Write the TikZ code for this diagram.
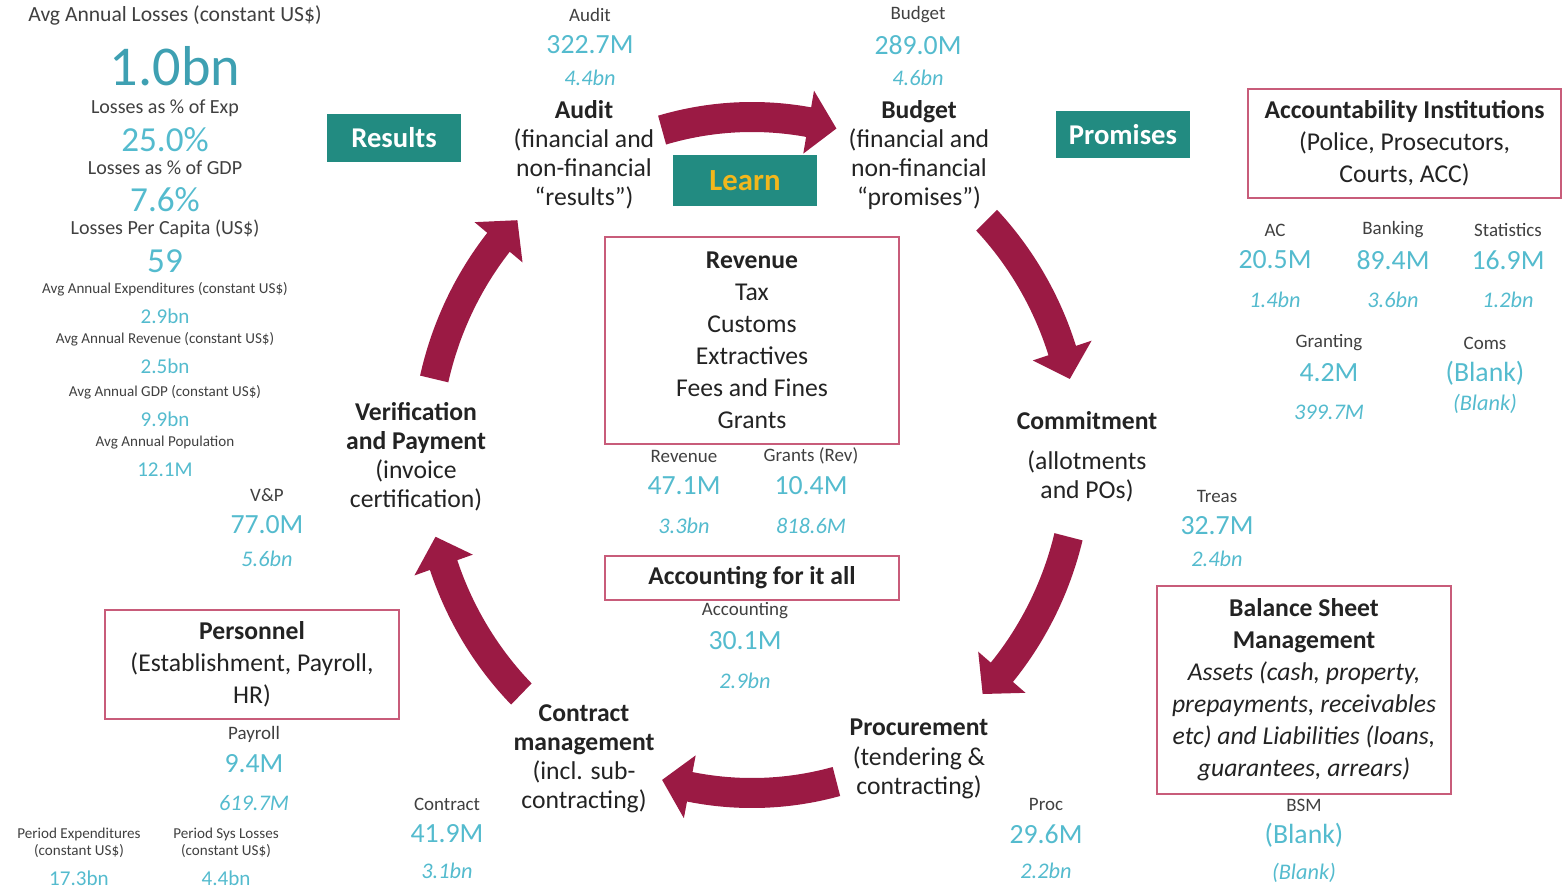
\documentclass[tikz,border=0pt]{standalone}
\usepackage{fontspec}
\setmainfont{Carlito}
\usepackage{tikz}
\definecolor{cycleteal}{RGB}{34,139,129}
\definecolor{learnyellow}{RGB}{242,183,28}
\definecolor{cyclered}{RGB}{155,26,68}
\definecolor{framepink}{RGB}{200,92,122}
\definecolor{valcyan}{RGB}{84,187,206}
\definecolor{bigcyan}{RGB}{62,160,178}
\definecolor{labelgray}{RGB}{64,64,64}
\definecolor{stagetext}{RGB}{35,35,35}
\tikzset{
  stage/.style    ={align=center, inner sep=0pt, text=stagetext,
                    font=\fontsize{14.6}{16.6}\selectfont},
  tagbox/.style   ={rectangle, fill=cycleteal, text=white, inner sep=0pt,
                    minimum width=2.68cm, minimum height=0.96cm,
                    font=\bfseries\fontsize{16.3}{19}\selectfont},
  areabox/.style  ={rectangle, draw=framepink, line width=0.9pt, align=flush center,
                    text width=5.88cm, inner sep=0pt, text=stagetext,
                    font=\fontsize{14.6}{18.2}\selectfont},
  cardlbl/.style  ={inner sep=0pt, text=labelgray, font=\fontsize{10.8}{13}\selectfont},
  cardval/.style  ={inner sep=0pt, text=valcyan, font=\fontsize{15.8}{18}\selectfont},
  cardsub/.style  ={inner sep=0pt, text=valcyan, font=\itshape\fontsize{12.7}{15}\selectfont},
  stattitle/.style={inner sep=0pt, text=labelgray, font=\fontsize{12.3}{15}\selectfont},
  bigval/.style   ={inner sep=0pt, text=bigcyan, font=\fontsize{32}{35}\selectfont},
  statlbl/.style  ={inner sep=0pt, text=labelgray, font=\fontsize{11.4}{13}\selectfont},
  statval/.style  ={inner sep=0pt, text=valcyan, font=\fontsize{20}{23}\selectfont},
  smalllbl/.style ={inner sep=0pt, align=center, text=labelgray,
                    font=\fontsize{8.6}{10}\selectfont},
  smallval/.style ={inner sep=0pt, text=valcyan, font=\fontsize{12}{14}\selectfont},
  cyclearrow/.style={fill=cyclered}
}

\begin{document}
\begin{tikzpicture}[x=0.02cm, y=0.02cm]
\useasboundingbox (0,0) rectangle (1562,-889);
% Cycle arrows
\begin{scope}[shift={(752,-455)}, xscale=0.965]
\foreach \a [evaluate=\a as \h using \a-26, evaluate=\a as \e using \a-31] in {106,44,-14,-75,-135,167}{
  \fill[cyclearrow] (\a:353) arc[start angle=\a, end angle=\h, radius=353]
    -- (\h:370) -- (\e:338) -- (\h:306) -- (\h:323)
    arc[start angle=\h, end angle=\a, radius=323] -- cycle;
}
\end{scope}
% Stages of the cycle
\node[stage] (audit) at (584,-155) {\textbf{Audit}\\(financial and\\non-financial\\“results”)};
\node[stage] (budget) at (919,-155) {\textbf{Budget}\\(financial and\\non-financial\\“promises”)};
\node[stage] (commit) at (1087,-457) {\textbf{Commitment}\\[6pt](allotments\\and POs)};
\node[stage] (procure) at (919,-759) {\textbf{Procurement}\\(tendering \&\\contracting)};
\node[stage] (contract) at (584,-759) {\textbf{Contract}\\\textbf{management}\\(incl. sub-\\contracting)};
\node[stage] (verify) at (416,-457) {\textbf{Verification}\\\textbf{and Payment}\\(invoice\\certification)};
% Tags
\node[tagbox] (results) at (394,-138) {Results};
\node[tagbox, text=learnyellow, minimum width=2.88cm, minimum height=1.02cm,
      font=\bfseries\fontsize{17.5}{20}\selectfont] (learn) at (745,-180.5) {Learn};
\node[tagbox, minimum height=0.94cm] (promises) at (1123,-134.5) {Promises};
% Framed areas
\node[areabox, minimum height=4.14cm] (revenue) at (752,-340.5)
  {\textbf{Revenue}\\Tax\\Customs\\Extractives\\Fees and Fines\\Grants};
\node[areabox, minimum height=0.88cm] (accounting) at (752,-578) {\textbf{Accounting for it all}};
\node[areabox, minimum height=2.18cm] (personnel) at (252,-664.5)
  {\textbf{Personnel}\\(Establishment, Payroll,\\HR)};
\node[areabox, minimum height=4.16cm] (bsm) at (1304,-690)
  {\textbf{Balance Sheet}\\\textbf{Management}\\\textit{Assets (cash, property,}\\
   \textit{prepayments, receivables}\\\textit{etc) and Liabilities (loans,}\\\textit{guarantees, arrears)}};
\node[areabox, text width=6.26cm, minimum height=2.18cm] (accinst) at (1404.5,-143.5)
  {\textbf{Accountability Institutions}\\(Police, Prosecutors,\\Courts, ACC)};
% Loss cards
\foreach \n/\x/\y/\s/\lab/\val/\sub in {
  aud/590/15/63/Audit/322.7M/4.4bn,
  bud/918/15/63/Budget/289.0M/4.6bn,
  ac/1275/230/70/AC/20.5M/1.4bn,
  bank/1393/230/70/Banking/89.4M/3.6bn,
  stat/1508/230/70/Statistics/16.9M/1.2bn,
  grant/1329/343/69/Granting/4.2M/399.7M,
  coms/1485/343/61/Coms/(Blank)/(Blank),
  rev/684/456/70/Revenue/47.1M/3.3bn,
  grev/811/456/70/Grants (Rev)/10.4M/818.6M,
  acct/745/611/70/Accounting/30.1M/2.9bn,
  treas/1217/496/63/Treas/32.7M/2.4bn,
  vp/267/495/64/V\&P/77.0M/5.6bn,
  pay/254/734/69/Payroll/9.4M/619.7M,
  con/447/804/67/Contract/41.9M/3.1bn,
  proc/1046/804/67/Proc/29.6M/2.2bn,
  bsmc/1304/805/68/BSM/(Blank)/(Blank)}{
  \node[cardlbl] (\n-lbl) at (\x,-\y) {\lab};
  \node[cardval] (\n-val) at (\x,-\y-30) {\val};
  \node[cardsub] (\n-sub) at (\x,-\y-\s) {\sub};
}
% Summary column
\node[stattitle] (losstitle) at (175,-15) {Avg Annual Losses (constant US\$)};
\node[bigval] (lossval) at (175,-66) {1.0bn};
\foreach \n/\y/\lab/\val in {exp/108/Losses as \% of Exp/25.0\%,
  gdp/168/Losses as \% of GDP/7.6\%, cap/229/Losses Per Capita (US\$)/59}{
  \node[statlbl] (\n-lbl) at (165,-\y) {\lab};
  \node[statval] (\n-val) at (165,-\y-32) {\val};
}
\foreach \n/\y/\lab/\val in {aexp/289/Avg Annual Expenditures (constant US\$)/2.9bn,
  arev/339/Avg Annual Revenue (constant US\$)/2.5bn,
  agdp/392/Avg Annual GDP (constant US\$)/9.9bn,
  apop/443/Avg Annual Population/12.1M}{
  \node[smalllbl] (\n-lbl) at (165,-\y) {\lab};
  \node[smallval] (\n-val) at (165,-\y-27) {\val};
}
\node[smalllbl] (pexp-lbl) at (79,-843) {Period Expenditures\\(constant US\$)};
\node[smallval] (pexp-val) at (79,-878) {17.3bn};
\node[smalllbl] (ploss-lbl) at (226,-843) {Period Sys Losses\\(constant US\$)};
\node[smallval] (ploss-val) at (226,-878) {4.4bn};
\end{tikzpicture}
\end{document}
